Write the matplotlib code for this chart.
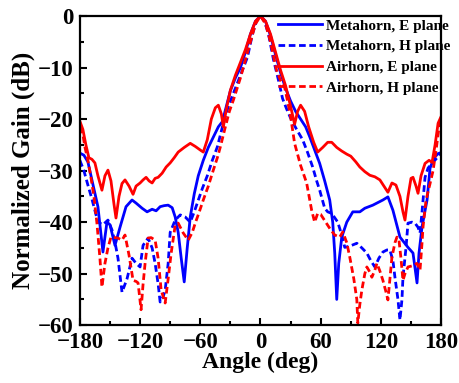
import matplotlib
matplotlib.use("Agg")
import matplotlib.pyplot as plt
from matplotlib.ticker import MultipleLocator

plt.rcParams["font.family"] = ["Liberation Serif", "DejaVu Serif"]
plt.rcParams["font.weight"] = "bold"

# ── Data ─────────────────────────────────────────────────────────────────────
meta_e_ang = [-180, -176, -172, -168, -162, -157, -153, -150, -145, -140, -134,
              -128, -124, -118, -113, -108, -104, -100, -96, -92, -88, -85, -82,
              -79, -76, -73, -70, -66, -62, -57, -52, -47, -42, -38, -34, -30,
              -25, -20, -15, -10, -5, 0, 5, 10, 15, 20, 25, 30, 35, 40, 45, 49,
              54, 59, 64, 69, 72, 74, 76, 78, 81, 86, 92, 99, 104, 112, 122,
              127, 132, 139, 147, 152, 156, 158, 161, 166, 169, 173, 177, 180]
meta_e_db = [-26.6, -27.0, -28.3, -31.8, -37.0, -45.8, -40.0, -40.5, -44.5,
             -41.0, -37.0, -35.7, -36.3, -37.3, -38.0, -37.5, -37.8, -37.0,
             -36.8, -36.7, -37.2, -39.0, -42.0, -47.0, -51.6, -45.0, -39.0,
             -34.5, -31.0, -28.0, -25.5, -23.5, -21.5, -20.5, -17.5, -14.5,
             -12.0, -10.0, -7.0, -3.5, -1.0, 0.0, -1.0, -3.8, -7.5, -11.0,
             -14.0, -16.5, -18.5, -20.0, -21.5, -23.4, -26.0, -28.6, -32.0,
             -35.7, -40.0, -46.0, -55.0, -48.0, -42.9, -40.0, -38.0, -38.0,
             -37.3, -36.7, -35.7, -35.1, -37.7, -42.9, -44.9, -46.0, -51.8,
             -46.0, -40.9, -35.7, -29.5, -27.5, -26.7, -26.5]

meta_h_ang = [-180, -176, -172, -168, -162, -157, -152, -148, -145, -142, -138,
              -133, -128, -124, -120, -117, -112, -108, -105, -102, -100, -97,
              -95, -92, -90, -85, -80, -75, -70, -66, -63, -58, -53, -48, -43,
              -37, -32, -27, -22, -18, -13, -8, -4, 0, 4, 8, 13, 18, 22, 26, 30,
              36, 42, 47, 52, 56, 59, 64, 67, 71, 77, 81, 84, 88, 91, 96, 101,
              106, 110, 114, 118, 122, 126, 129, 132, 134, 137, 139, 141, 142,
              145, 147, 151, 154, 157, 159, 161, 164, 167, 171, 176, 180]
meta_h_db = [-28.0, -30.0, -32.8, -35.5, -40.0, -40.5, -39.6, -41.5, -43.9,
             -47.0, -53.6, -51.0, -47.0, -48.0, -48.7, -44.5, -43.1, -45.0,
             -48.0, -52.0, -55.5, -54.5, -53.2, -48.0, -42.0, -39.6, -38.6,
             -39.0, -40.0, -38.0, -36.3, -33.5, -31.0, -28.0, -25.4, -20.8,
             -17.5, -15.0, -12.5, -10.5, -8.0, -3.5, -1.0, 0.0, -1.0, -3.5,
             -8.5, -12.5, -16.0, -18.0, -19.8, -22.0, -24.0, -26.5, -29.3,
             -32.0, -33.8, -37.3, -38.0, -38.3, -40.0, -42.5, -44.9, -44.7,
             -44.5, -44.1, -45.0, -46.0, -47.5, -48.7, -47.0, -45.8, -45.4,
             -45.4, -47.5, -50.7, -55.0, -59.0, -55.0, -50.7, -45.0, -40.2,
             -40.0, -40.2, -41.0, -42.1, -38.0, -31.3, -29.5, -28.6, -27.5,
             -26.5]

air_e_ang = [-180, -177, -174, -171, -168, -165, -162, -158, -155, -152, -149,
             -146, -144, -141, -138, -135, -131, -127, -124, -120, -117, -114,
             -111, -108, -105, -102, -98, -94, -90, -86, -82, -76, -70, -65,
             -60, -57, -53, -49, -45, -42, -39, -37, -34, -30, -25, -20, -15,
             -10, -5, 0, 5, 10, 15, 20, 25, 30, 34, 37, 40, 44, 48, 53, 57, 62,
             67, 71, 76, 81, 86, 90, 95, 99, 104, 109, 114, 119, 123, 127, 131,
             135, 139, 142, 144, 147, 150, 152, 155, 157, 160, 164, 168, 171,
             174, 177, 180]
air_e_db = [-20.4, -22.0, -25.0, -27.5, -27.8, -28.5, -31.0, -33.8, -31.0,
            -29.9, -32.0, -36.5, -39.2, -35.0, -32.5, -31.8, -33.0, -34.6,
            -33.0, -32.4, -31.8, -31.3, -32.0, -32.4, -31.5, -31.3, -30.5,
            -29.3, -28.5, -27.5, -26.4, -25.5, -24.7, -25.3, -26.0, -26.4,
            -24.0, -20.0, -17.8, -17.3, -19.0, -21.5, -18.0, -14.4, -11.5,
            -9.0, -6.5, -3.5, -1.0, 0.0, -1.0, -3.5, -7.0, -10.5, -13.5,
            -17.5, -21.0, -18.5, -17.3, -18.5, -21.5, -24.5, -26.4, -25.5,
            -24.5, -24.5, -25.5, -26.2, -26.8, -27.2, -28.3, -29.3, -30.2,
            -30.9, -31.2, -31.8, -33.0, -34.2, -32.4, -32.8, -35.0, -38.0,
            -39.6, -35.0, -31.5, -31.3, -33.0, -34.4, -31.0, -28.6, -28.0,
            -28.4, -25.0, -20.8, -19.5]

air_h_ang = [-180, -177, -175, -172, -169, -166, -163, -160, -158, -155, -152,
             -149, -145, -142, -138, -135, -131, -127, -124, -122, -119, -117,
             -115, -112, -109, -105, -102, -99, -95, -92, -89, -85, -82, -77,
             -72, -68, -65, -61, -57, -52, -47, -43, -40, -35, -31, -27, -20,
             -15, -10, -5, 0, 5, 10, 16, 20, 24, 27, 30, 34, 40, 46, 51, 54,
             57, 60, 65, 70, 74, 79, 82, 86, 89, 93, 96, 97, 99, 101, 104, 106,
             109, 111, 114, 116, 119, 122, 125, 127, 129, 131, 134, 136, 138,
             140, 142, 144, 147, 151, 156, 159, 161, 162, 165, 169, 172, 175,
             178, 180]
air_h_db = [-21.5, -23.0, -25.4, -28.0, -31.3, -35.0, -40.2, -47.0, -52.6,
            -48.0, -45.0, -42.9, -43.0, -43.1, -43.5, -42.5, -46.4, -51.3,
            -51.5, -51.8, -57.0, -52.0, -48.0, -43.1, -43.0, -43.5, -47.0,
            -53.2, -55.7, -51.0, -46.0, -40.6, -40.2, -42.1, -43.5, -42.0,
            -40.2, -38.0, -35.7, -33.0, -29.9, -27.5, -25.4, -21.5, -18.5,
            -16.3, -12.0, -8.5, -5.0, -1.5, 0.0, -1.5, -5.0, -10.5, -12.5,
            -13.8, -16.5, -19.5, -24.7, -29.0, -32.4, -37.7, -40.0, -38.3,
            -38.5, -40.0, -41.5, -42.5, -42.9, -41.9, -44.0, -46.8, -51.0,
            -55.0, -59.6, -56.0, -53.2, -50.0, -48.7, -49.7, -50.7, -49.3,
            -48.0, -49.5, -51.3, -53.5, -55.1, -51.0, -46.8, -44.0, -42.9,
            -43.5, -47.0, -51.3, -50.0, -48.7, -48.5, -48.0, -49.3, -44.0,
            -40.9, -35.7, -32.5, -30.0, -26.0, -21.5, -20.0]

series = [
    (meta_e_ang, meta_e_db, "#0000ff", "-", "Metahorn, E plane"),
    (meta_h_ang, meta_h_db, "#0000ff", "--", "Metahorn, H plane"),
    (air_e_ang, air_e_db, "#ff0000", "-", "Airhorn, E plane"),
    (air_h_ang, air_h_db, "#ff0000", "--", "Airhorn, H plane"),
]

# ── Figure ───────────────────────────────────────────────────────────────────
fig = plt.figure(figsize=(4.59, 3.83), dpi=100)
ax = fig.add_axes([0.174, 0.151, 0.787, 0.807])

for ang, db, color, ls, label in series:
    line, = ax.plot(ang, db, color=color, linestyle=ls, linewidth=2.0,
                    label=label)
    if ls == "--":
        line.set_dashes((2.4, 1.3))

ax.set_xlim(-180, 180)
ax.set_ylim(-60, 0)
ax.xaxis.set_major_locator(MultipleLocator(60))
ax.xaxis.set_minor_locator(MultipleLocator(30))
ax.yaxis.set_major_locator(MultipleLocator(10))
ax.yaxis.set_minor_locator(MultipleLocator(5))
ax.tick_params(which="both", direction="in", top=False, right=False,
               width=1.5, labelsize=16.5)
ax.tick_params(axis="x", pad=5)
ax.tick_params(axis="y", pad=4.5)
ax.tick_params(which="major", length=5)
ax.tick_params(which="minor", length=3)
for lbl in ax.get_xticklabels() + ax.get_yticklabels():
    lbl.set_fontweight("bold")
for sp in ax.spines.values():
    sp.set_linewidth(1.6)

ax.set_xlabel("Angle (deg)", fontsize=17, fontweight="bold", labelpad=-1)
ax.set_ylabel("Normalized Gain (dB)", fontsize=18, fontweight="bold",
              labelpad=2)

leg = ax.legend(loc="upper right", bbox_to_anchor=(1.035, 1.0),
                frameon=False, fontsize=11, handlelength=2.9,
                handletextpad=0.25, labelspacing=0.45, borderpad=0.2,
                borderaxespad=0.0)
for t in leg.get_texts():
    t.set_fontweight("bold")

fig.savefig("out.png", dpi=100)
